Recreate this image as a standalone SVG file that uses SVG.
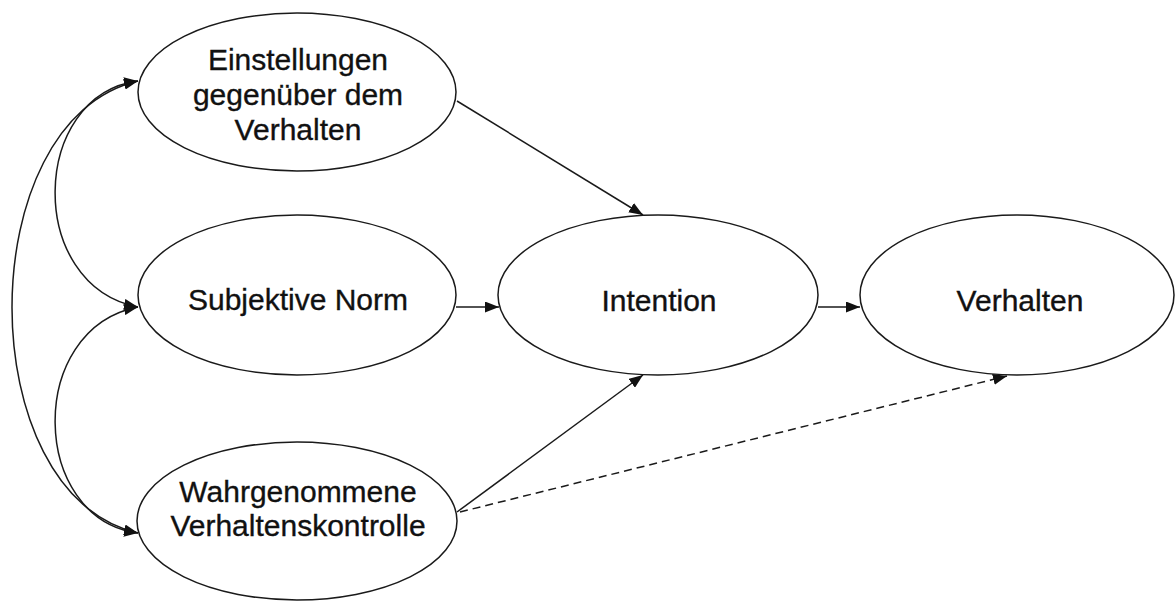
<svg xmlns="http://www.w3.org/2000/svg" width="1175" height="602" viewBox="0 0 1175 602">
<style>
.node{fill:#fff;stroke:#1a1a1a;stroke-width:1.5}
.lbl{font-family:"Liberation Sans",Arial,sans-serif;font-size:30px;fill:#111;stroke:#111;stroke-width:0.35;text-anchor:middle}
.edge{fill:none;stroke:#1a1a1a;stroke-width:1.5}
.dash{stroke-dasharray:8 5}
</style>
<defs>
<marker id="ah" viewBox="0 0 14 11" refX="14" refY="5.5" markerWidth="14" markerHeight="11" markerUnits="userSpaceOnUse" orient="auto-start-reverse">
<path d="M0,0 L14,5.5 L0,11 z" fill="#111"/>
</marker>
</defs>
<rect width="1175" height="602" fill="#fff"/>
<g id="einstellungen">
<ellipse class="node" cx="297" cy="92" rx="159" ry="79"/>
<text class="lbl" x="298" y="70">Einstellungen</text>
<text class="lbl" x="298" y="105">gegenüber dem</text>
<text class="lbl" x="298" y="140">Verhalten</text>
</g>
<g id="subjektive-norm">
<ellipse class="node" cx="297" cy="295" rx="159" ry="80"/>
<text class="lbl" x="298" y="310">Subjektive Norm</text>
</g>
<g id="wahrgenommene">
<ellipse class="node" cx="297" cy="521" rx="160" ry="79"/>
<text class="lbl" x="298" y="502">Wahrgenommene</text>
<text class="lbl" x="298" y="536">Verhaltenskontrolle</text>
</g>
<g id="intention">
<ellipse class="node" cx="658" cy="295" rx="160" ry="80"/>
<text class="lbl" x="659" y="311">Intention</text>
</g>
<g id="verhalten">
<ellipse class="node" cx="1017" cy="295" rx="157" ry="80"/>
<text class="lbl" x="1020" y="311">Verhalten</text>
</g>
<g id="connectors">
<path class="edge" d="M457,101 L643,215" marker-end="url(#ah)"/>
<path class="edge" d="M456,307 L499,307" marker-end="url(#ah)"/>
<path class="edge" d="M818,307 L860,307" marker-end="url(#ah)"/>
<path class="edge" d="M457,512 L643,375" marker-end="url(#ah)"/>
<path class="edge dash" d="M460,512 L1007,376" marker-end="url(#ah)"/>
<path class="edge" d="M138,81 C30,95 25,285 138,307" marker-start="url(#ah)" marker-end="url(#ah)"/>
<path class="edge" d="M138,307 C25,329 30,519 138,533" marker-start="url(#ah)" marker-end="url(#ah)"/>
<path class="edge" d="M138,81 C-30,120 -30,495 138,533" marker-start="url(#ah)" marker-end="url(#ah)"/>
</g>
</svg>
